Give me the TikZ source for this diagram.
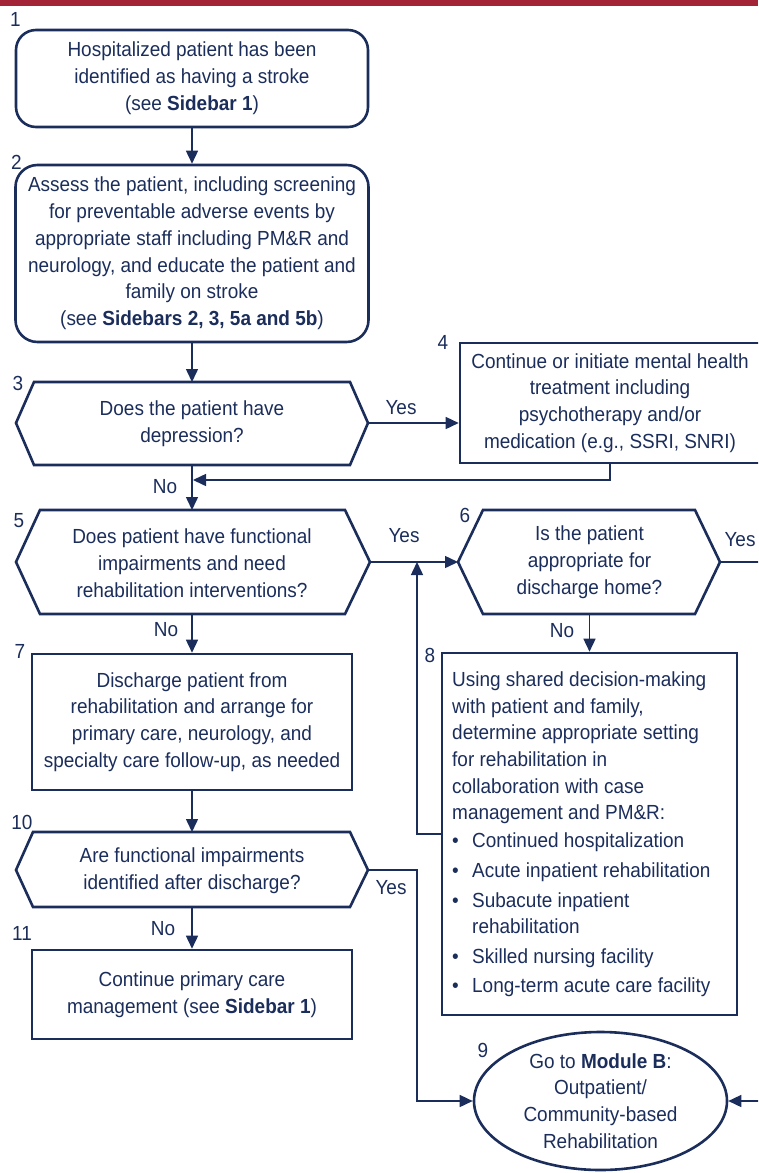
\documentclass[tikz,border=0pt]{standalone}
\usepackage{fontspec}
\setmainfont{Liberation Sans}[FakeStretch=0.93]
\usetikzlibrary{arrows.meta,shapes.geometric}
\definecolor{navy}{HTML}{1B2D5B}
\definecolor{topbar}{HTML}{A32337}
\newcommand\blt{\makebox[20pt][l]{•}}
\begin{document}
\begin{tikzpicture}[x=1pt,y=-1pt,
  every node/.style={text=navy, font=\fontsize{20.4}{26.8}\selectfont},
  box/.style={draw=navy, line width=2.6pt, rectangle, inner sep=0pt, align=center},
  rbox/.style={box, rounded corners=20pt},
  hexline/.style={draw=navy, line width=2.6pt, line join=miter},
  conn/.style={draw=navy, line width=1.5pt},
  arr/.style={conn, -{Triangle[length=13pt,width=12pt]}},
  num/.style={inner sep=0pt},
  lbl/.style={inner sep=0pt},
  txt/.style={inner sep=0pt, align=center}]
\useasboundingbox (0,0) rectangle (758,1173);
\clip (0,0) rectangle (758,1173);
\fill[topbar] (0,0) rectangle (758,5.7);

% boxes
\node[rbox, minimum width=352pt, minimum height=97pt] (b1) at (192,78.5)
  {Hospitalized patient has been\\identified as having a stroke\\(see \textbf{Sidebar 1})};
\node[rbox, rounded corners=22pt, minimum width=353pt, minimum height=177pt] (b2) at (192,253.5)
  {Assess the patient, including screening\\for preventable adverse events by\\appropriate staff including PM\&R and\\neurology, and educate the patient and\\family on stroke\\(see \textbf{Sidebars 2, 3, 5a and 5b})};
\node[box, minimum width=300pt, minimum height=120pt] (b4) at (610,403)
  {Continue or initiate mental health\\treatment including\\psychotherapy and/or\\medication (e.g., SSRI, SNRI)};
\node[box, minimum width=320pt, minimum height=136pt] (b7) at (192,722)
  {Discharge patient from\\rehabilitation and arrange for\\primary care, neurology, and\\specialty care follow-up, as needed};
\node[box, minimum width=295pt, minimum height=362pt] (b8) at (589.5,834) {};
\node[lbl, anchor=west, align=left, font=\fontsize{20.4}{26.6}\selectfont] (t8) at (452,834.5)
  {Using shared decision-making\\with patient and family,\\determine appropriate setting\\for rehabilitation in\\collaboration with case\\management and PM\&R:\\[1.5pt]\blt Continued hospitalization\\[3pt]\blt Acute inpatient rehabilitation\\[3pt]\blt Subacute inpatient\\\hspace*{20pt}rehabilitation\\[3pt]\blt Skilled nursing facility\\[3pt]\blt Long-term acute care facility};
\node[box, minimum width=320pt, minimum height=89pt] (b11) at (192,994.5)
  {Continue primary care\\management (see \textbf{Sidebar 1})};
\node[box, ellipse, minimum width=253pt, minimum height=138pt] (e9) at (600.5,1101)
  {Go to \textbf{Module B}:\\Outpatient/\\Community-based\\Rehabilitation};

% decision hexagons
\draw[hexline] (16,423) coordinate (h3w) -- (34,382) -- (350,382) -- (368,423) coordinate (h3e) -- (350,465) -- (34,465) -- cycle;
\coordinate (h3n) at (192,382); \coordinate (h3s) at (192,465);
\node[txt] (t3) at (192,423.5) {Does the patient have\\depression?};

\draw[hexline] (16,562) coordinate (h5w) -- (40,510) -- (345,510) -- (370,562) coordinate (h5e) -- (345,614) -- (40,614) -- cycle;
\coordinate (h5n) at (192,510); \coordinate (h5s) at (192,614);
\node[txt] (t5) at (192,563) {Does patient have functional\\impairments and need\\rehabilitation interventions?};

\draw[hexline] (458,562) coordinate (h6w) -- (483,510) -- (695,510) -- (720,562) coordinate (h6e) -- (695,614) -- (483,614) -- cycle;
\coordinate (h6n) at (589.5,510); \coordinate (h6s) at (589.5,614);
\node[txt] (t6) at (589.5,562.5) {Is the patient\\appropriate for\\discharge home?};

\draw[hexline] (16,870) coordinate (h10w) -- (33,832) -- (350,832) -- (368,870) coordinate (h10e) -- (350,907) -- (33,907) -- cycle;
\coordinate (h10n) at (192,832); \coordinate (h10s) at (192,907);
\node[txt] (t10) at (192,871) {Are functional impairments\\identified after discharge?};

% helper coordinates
\coordinate (j1) at (193,480);
\coordinate (j2) at (417,562);
\coordinate (j3) at (417,1101);
\coordinate (edge6) at (760,562);
\coordinate (edge9) at (760,1101);

% connectors
\draw[arr] (b1.south) -- (b2.north);
\draw[arr] (b2.south) -- (h3n);
\draw[arr] (h3e) -- (h3e -| b4.west);
\draw[arr] (b4.south) |- (j1);
\draw[arr] (h3s) -- (h5n);
\draw[arr] (h5e) -- (h6w);
\draw[arr] (b8.west) -| (j2);
\draw[conn] (h6e) -- (edge6);
\draw[arr] (h6s) -- (b8.north);
\draw[arr] (h5s) -- (b7.north);
\draw[arr] (b7.south) -- (h10n);
\draw[arr] (h10e) -| (j3) -- (e9.west);
\draw[arr] (h10s) -- (b11.north);
\draw[arr] (edge9) -- (e9.east);

% connector labels
\node[lbl] (y3) at (401,408) {Yes};
\node[lbl] (n3) at (165,487) {No};
\node[lbl] (y5) at (404,536) {Yes};
\node[lbl] (n5) at (166,630) {No};
\node[lbl] (y6) at (740,540) {Yes};
\node[lbl] (n6) at (562,631) {No};
\node[lbl] (y10) at (391,888) {Yes};
\node[lbl] (n10) at (163,929) {No};

% step numbers
\node[num] (s1) at (15.5,19) {1};
\node[num] (s2) at (16.5,162) {2};
\node[num] (s3) at (18,383) {3};
\node[num] (s4) at (443,342) {4};
\node[num] (s5) at (19,521) {5};
\node[num] (s6) at (465,515) {6};
\node[num] (s7) at (20,651) {7};
\node[num] (s8) at (430,655) {8};
\node[num] (s9) at (483,1050) {9};
\node[num] (s10) at (22,822) {10};
\node[num] (s11) at (22,933) {11};
\end{tikzpicture}
\end{document}
